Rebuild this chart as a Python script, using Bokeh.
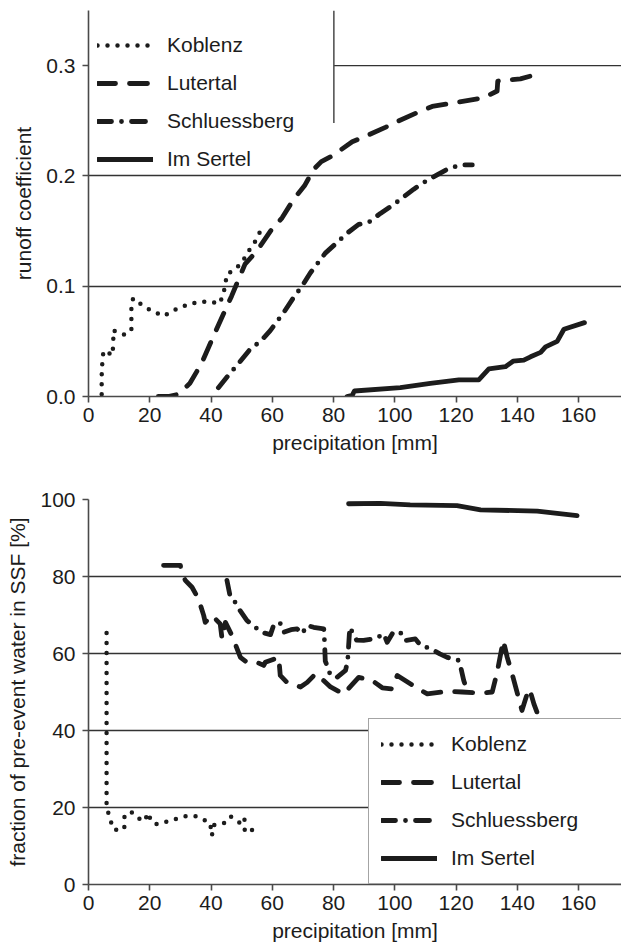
from bokeh.plotting import figure
from bokeh.layouts import column
from bokeh.models import FixedTicker, PrintfTickFormatter, Legend, LegendItem, Range1d
from bokeh.embed import file_html
from bokeh.resources import INLINE

# ---------------- data: runoff coefficient vs precipitation ----------------
SERIES = ["Koblenz", "Lutertal", "Schluessberg", "Im Sertel"]

rc_koblenz_x = [4.3, 4.3, 4.3, 4.5, 4.8, 5.9, 7.5, 8.1, 8.1, 8.1, 11.7, 14.0, 14.0, 14.0, 14.0,
                14.6, 17.9, 21.1, 24.7, 26.9, 30.1, 33.1, 36.4, 39.7, 42.7, 44.0, 44.6, 45.2,
                47.8, 50.2, 52.3, 54.5, 56.1]
rc_koblenz_y = [0.002, 0.011, 0.019, 0.030, 0.039, 0.042, 0.037, 0.045, 0.054, 0.060, 0.056,
                0.060, 0.066, 0.074, 0.084, 0.089, 0.082, 0.077, 0.073, 0.077, 0.081, 0.084,
                0.086, 0.086, 0.084, 0.092, 0.101, 0.111, 0.115, 0.122, 0.132, 0.141, 0.150]

rc_lutertal_x = [22.8, 26.0, 29.3, 33.1, 36.9, 41.8, 46.7, 51.1, 55.0, 59.4, 63.2, 67.0, 70.5,
                 73.5, 76.0, 79.5, 86.1, 90.4, 96.9, 101.3, 107.8, 112.2, 118.7, 123.1, 129.1,
                 133.4, 133.6, 137.2, 141.0, 147.6]
rc_lutertal_y = [0.000, 0.000, 0.002, 0.012, 0.030, 0.061, 0.091, 0.120, 0.132, 0.150, 0.162,
                 0.179, 0.191, 0.206, 0.213, 0.218, 0.231, 0.236, 0.244, 0.250, 0.258, 0.263,
                 0.266, 0.268, 0.271, 0.277, 0.286, 0.287, 0.288, 0.293]

rc_schluessberg_x = [42.4, 45.6, 49.0, 52.5, 56.5, 59.4, 63.7, 67.0, 69.7, 72.4, 74.6, 77.3,
                     80.5, 84.4, 88.2, 91.5, 95.3, 99.6, 106.2, 110.0, 113.8, 117.1, 121.4, 125.3]
rc_schluessberg_y = [0.008, 0.019, 0.030, 0.042, 0.051, 0.060, 0.076, 0.090, 0.100, 0.112,
                     0.120, 0.130, 0.138, 0.148, 0.156, 0.158, 0.166, 0.174, 0.188, 0.195,
                     0.201, 0.206, 0.210, 0.210]

rc_sertel_x = [84.4, 86.1, 86.8, 101.8, 111.6, 120.9, 127.4, 130.7, 136.1, 138.6, 142.1, 144.3,
               147.6, 149.2, 153.0, 155.2, 161.9]
rc_sertel_y = [0.000, 0.001, 0.005, 0.008, 0.012, 0.015, 0.015, 0.025, 0.027, 0.032, 0.033,
               0.036, 0.040, 0.045, 0.050, 0.061, 0.067]

# ---------------- data: pre-event water fraction vs precipitation ----------------
pe_koblenz_x = [5.9, 5.9, 6.5, 7.0, 7.5, 8.4, 9.7, 11.7, 11.7, 13.8, 16.0, 18.2, 19.5, 20.1, 21.7,
                25.0, 28.4, 31.7, 35.0, 37.5, 39.7, 40.3, 40.8, 44.2, 46.4, 49.6, 50.9, 51.0,
                51.0, 54.7]
pe_koblenz_y = [65.3, 20.1, 18.5, 17.5, 15.8, 14.2, 14.2, 14.5, 17.5, 19.0, 17.3, 16.4, 18.6,
                17.2, 15.6, 16.2, 17.0, 17.7, 17.7, 16.9, 15.9, 12.7, 15.4, 15.9, 17.7, 15.9,
                17.3, 14.9, 13.6, 14.5]

pe_lutertal_x = [24.5, 30.0, 30.2, 31.6, 33.8, 35.9, 37.6, 38.1, 40.3, 43.0, 43.6, 44.7, 46.8,
                 49.6, 51.7, 55.0, 57.2, 57.7, 62.1, 62.6, 64.8, 69.2, 71.4, 74.1, 77.0, 79.0,
                 83.3, 88.2, 92.6, 95.9, 99.1, 100.8, 106.7, 110.6, 117.6, 122.0, 128.5, 131.8,
                 133.4, 135.4, 136.7, 138.6, 140.5, 141.5, 143.2, 144.0, 145.4, 147.0]
pe_lutertal_y = [82.9, 82.9, 81.5, 79.0, 77.2, 74.2, 69.9, 68.1, 69.9, 67.7, 63.8, 68.1, 64.7,
                 59.0, 57.7, 57.7, 56.9, 57.7, 59.0, 54.3, 52.5, 51.3, 52.5, 54.7, 52.8, 51.3,
                 49.5, 53.8, 53.0, 51.1, 50.8, 54.3, 51.3, 49.5, 50.2, 50.0, 49.7, 50.0, 55.1,
                 63.4, 59.0, 53.8, 48.2, 45.2, 49.5, 50.8, 46.9, 43.5]

pe_schluessberg_x = [45.2, 46.3, 47.9, 49.0, 51.7, 54.5, 56.6, 59.4, 60.5, 61.5, 62.6, 63.7,
                     66.1, 68.1, 69.7, 71.4, 73.5, 76.8, 77.0, 77.3, 78.0, 79.0, 81.1, 83.9,
                     84.6, 85.3, 87.5, 89.8, 93.7, 96.4, 97.5, 99.6, 102.4, 103.5, 106.7, 108.4,
                     111.6, 114.7, 117.1, 120.9, 121.7, 122.5, 123.6]
pe_schluessberg_y = [79.0, 74.6, 73.3, 71.7, 68.6, 66.8, 65.5, 64.9, 67.5, 68.1, 67.8, 65.5,
                     66.2, 66.4, 65.1, 67.3, 66.8, 66.4, 64.0, 58.0, 56.6, 54.3, 53.8, 55.6,
                     58.0, 66.8, 63.5, 63.4, 63.9, 65.1, 62.9, 65.7, 65.2, 63.4, 63.8, 62.1,
                     61.3, 59.9, 59.0, 58.2, 55.8, 53.0, 50.4]

pe_sertel_x = [84.9, 95.3, 105.0, 120.3, 128.0, 146.5, 159.5]
pe_sertel_y = [98.9, 99.0, 98.6, 98.4, 97.3, 97.0, 95.8]

x_ticks = [0, 20, 40, 60, 80, 100, 120, 140, 160]
rc_ticks = [0.0, 0.1, 0.2, 0.3]
pe_ticks = [0, 20, 40, 60, 80, 100]

# ---------------- styling ----------------
FONT = "Liberation Sans"
FS = "21px"
INK = "#1c1c1c"
AXIS = "#4a4a4a"
GRID = "#333333"
STYLES = {
    "Koblenz": dict(line_dash="0 10", line_cap="round", line_width=4.5),
    "Lutertal": dict(line_dash="18 14", line_cap="round", line_width=4.8),
    "Schluessberg": dict(line_dash="14 10 0 10", line_cap="round", line_width=4.8),
    "Im Sertel": dict(line_dash="solid", line_cap="round", line_width=4.8),
}


def make_fig(height, ymax, border_top, border_bottom, yticks, grid_ticks, ylabel, fmt):
    p = figure(width=621, height=height, x_range=Range1d(0, 174), y_range=Range1d(0, ymax),
               output_backend="svg", toolbar_location=None,
               min_border_left=88, min_border_right=0,
               min_border_top=border_top, min_border_bottom=border_bottom)
    p.outline_line_color = None
    p.background_fill_color = "white"
    p.border_fill_color = "white"
    p.xgrid.grid_line_color = None
    p.ygrid.ticker = FixedTicker(ticks=grid_ticks)
    p.ygrid.grid_line_color = GRID
    p.ygrid.grid_line_width = 1.3
    for ax in (p.xaxis[0], p.yaxis[0]):
        ax.axis_line_color = AXIS
        ax.axis_line_width = 1.6
        ax.major_tick_line_color = AXIS
        ax.major_tick_line_width = 1.6
        ax.major_tick_out = 6
        ax.major_tick_in = 0
        ax.minor_tick_line_color = None
        ax.major_label_text_font = FONT
        ax.major_label_text_font_size = FS
        ax.major_label_text_color = INK
        ax.axis_label_text_font = FONT
        ax.axis_label_text_font_size = FS
        ax.axis_label_text_font_style = "normal"
        ax.axis_label_text_color = INK
        ax.major_label_standoff = 7
        ax.axis_label_standoff = 8
    p.xaxis.major_label_standoff = 5
    p.xaxis.axis_label_standoff = 6
    p.xaxis.ticker = FixedTicker(ticks=x_ticks)
    p.xaxis.axis_label = "precipitation [mm]"
    p.yaxis.ticker = FixedTicker(ticks=yticks)
    p.yaxis.formatter = PrintfTickFormatter(format=fmt)
    p.yaxis.axis_label = ylabel
    return p


def draw_series(p, xs_list, ys_list):
    renderers = []
    for name, xs, ys in zip(SERIES, xs_list, ys_list):
        r = p.line(xs, ys, line_color=INK, line_join="round", **STYLES[name])
        renderers.append(r)
    return renderers


# ---------------- top chart ----------------
# the 0.3 gridline is hidden behind the legend box, so it is drawn only right of the box
p1 = make_fig(460, 0.35, 10, 64, rc_ticks, [0.1, 0.2, 0.35], "runoff coefficient", "%.1f")
grid03 = p1.segment(x0=[80.1], y0=[0.3], x1=[174], y1=[0.3], line_color=GRID, line_width=1.3)
grid03.level = "underlay"
edge = p1.segment(x0=[80.1], y0=[0.248], x1=[80.1], y1=[0.35], line_color=AXIS, line_width=1.5)
r1 = draw_series(p1,
                 [rc_koblenz_x, rc_lutertal_x, rc_schluessberg_x, rc_sertel_x],
                 [rc_koblenz_y, rc_lutertal_y, rc_schluessberg_y, rc_sertel_y])
leg1 = Legend(items=[LegendItem(label=n, renderers=[r]) for n, r in zip(SERIES, r1)],
              location=(9, 224), padding=8, spacing=12, label_height=26, glyph_height=26,
              glyph_width=56, label_standoff=14, label_width=166,
              label_text_font=FONT, label_text_font_size=FS, label_text_color=INK,
              border_line_color=None, background_fill_alpha=0.0)
p1.add_layout(leg1, "center")

# ---------------- bottom chart ----------------
p2 = make_fig(492, 100, 39, 68, pe_ticks, [20, 40, 60, 80, 100],
              "fraction of pre-event water in SSF [%]", "%d")
r2 = draw_series(p2,
                 [pe_koblenz_x, pe_lutertal_x, pe_schluessberg_x, pe_sertel_x],
                 [pe_koblenz_y, pe_lutertal_y, pe_schluessberg_y, pe_sertel_y])
leg2 = Legend(items=[LegendItem(label=n, renderers=[r]) for n, r in zip(SERIES, r2)],
              location=(280, 0), padding=12, spacing=12, label_height=26, glyph_height=26,
              glyph_width=56, label_standoff=14, label_width=165,
              label_text_font=FONT, label_text_font_size=FS, label_text_color=INK,
              border_line_color=AXIS, border_line_width=1.5,
              background_fill_color="white", background_fill_alpha=1.0)
p2.add_layout(leg2, "center")

layout = column(p1, p2, spacing=0)
open("out.html", "w").write(file_html(layout, INLINE))
